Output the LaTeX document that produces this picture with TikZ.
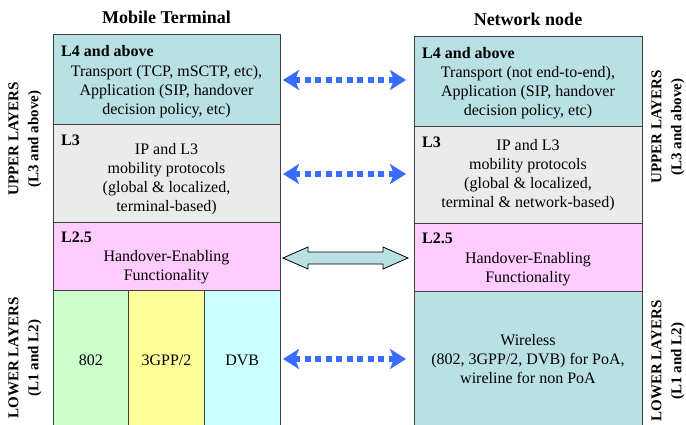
\documentclass[tikz,border=0pt]{standalone}
\usepackage{fontspec}
\setmainfont{Liberation Serif}
\usepackage{tikz}
\usetikzlibrary{arrows.meta, positioning, calc}
\definecolor{upteal}{HTML}{B9E0E3}
\definecolor{lthree}{HTML}{EBEBEB}
\definecolor{ltwofive}{HTML}{FFCCFF}
\definecolor{wgreen}{HTML}{CCFFCC}
\definecolor{wyellow}{HTML}{FFFF99}
\definecolor{wcyan}{HTML}{CCFFFF}
\definecolor{arrblue}{HTML}{3A6BFF}
\definecolor{boxline}{HTML}{404040}
\tikzset{
  layerbox/.style={rectangle, draw=boxline, line width=0.9pt, inner sep=0pt, outer sep=0pt},
  hdr/.style={font=\fontsize{16}{19}\selectfont\bfseries, anchor=north west, inner sep=3pt},
  bodytxt/.style={align=center, inner sep=0pt, font=\fontsize{16}{19}\selectfont},
  sidelbl/.style={rotate=90, align=center, font=\fontsize{15}{20}\selectfont\bfseries},
  coltitle/.style={font=\fontsize{18}{21}\selectfont\bfseries},
  dasharr/.style={draw=arrblue, line width=6pt, dash pattern=on 6pt off 4.5pt,
    {Stealth[length=16pt, width=20pt, inset=4pt]}-{Stealth[length=16pt, width=20pt, inset=4pt]}},
  fatarr/.style={draw=black, fill=upteal, line width=0.8pt, line join=miter},
}
\begin{document}
\begin{tikzpicture}[x=1pt, y=1pt]
\useasboundingbox (0,0) rectangle (686,-425);
% mobile terminal stack
\node[layerbox, fill=upteal, minimum width=227pt, minimum height=90pt, anchor=north west] (mtL4) at (53,-34) {};
\node[layerbox, fill=lthree, minimum width=227pt, minimum height=98pt, below=0pt of mtL4] (mtL3) {};
\node[layerbox, fill=ltwofive, minimum width=227pt, minimum height=68pt, below=0pt of mtL3] (mtL25) {};
\node[layerbox, fill=wgreen, minimum width=75.67pt, minimum height=140pt, anchor=north west] (mt802) at (mtL25.south west) {};
\node[layerbox, fill=wyellow, minimum width=75.67pt, minimum height=140pt, right=0pt of mt802] (mt3gpp) {};
\node[layerbox, fill=wcyan, minimum width=75.67pt, minimum height=140pt, right=0pt of mt3gpp] (mtdvb) {};
% network node stack
\node[layerbox, fill=upteal, minimum width=228pt, minimum height=90pt, anchor=north west] (nnL4) at (414,-36) {};
\node[layerbox, fill=lthree, minimum width=228pt, minimum height=97pt, below=0pt of nnL4] (nnL3) {};
\node[layerbox, fill=ltwofive, minimum width=228pt, minimum height=68pt, below=0pt of nnL3] (nnL25) {};
\node[layerbox, fill=upteal, minimum width=228pt, minimum height=140pt, below=0pt of nnL25] (nnlow) {};
% titles
\node[coltitle, above=7pt of mtL4] (mttitle) {Mobile Terminal};
\node[coltitle, above=7pt of nnL4] (nntitle) {Network node};
% layer headers
\node[hdr] (mtL4h) at ([shift={(5pt,-8pt)}]mtL4.north west) {L4 and above};
\node[hdr] (mtL3h) at ([shift={(5pt,-8pt)}]mtL3.north west) {L3};
\node[hdr] (mtL25h) at ([shift={(5pt,-7pt)}]mtL25.north west) {L2.5};
\node[hdr] (nnL4h) at ([shift={(5pt,-8pt)}]nnL4.north west) {L4 and above};
\node[hdr] (nnL3h) at ([shift={(5pt,-8pt)}]nnL3.north west) {L3};
\node[hdr] (nnL25h) at ([shift={(5pt,-7pt)}]nnL25.north west) {L2.5};
% layer contents
\node[bodytxt] (mtL4t) at ([yshift=-12.5pt]mtL4.center) {Transport (TCP, mSCTP, etc),\\Application (SIP, handover\\decision policy, etc)};
\node[bodytxt] (mtL3t) at ([yshift=-6pt]mtL3.center) {IP and L3\\mobility protocols\\(global \& localized,\\terminal-based)};
\node[bodytxt] (mtL25t) at ([yshift=-11pt]mtL25.center) {Handover-Enabling\\Functionality};
\node[bodytxt] at (mt802.center) {802};
\node[bodytxt] at (mt3gpp.center) {3GPP/2};
\node[bodytxt] at (mtdvb.center) {DVB};
\node[bodytxt] (nnL4t) at ([yshift=-12pt]nnL4.center) {Transport (not end-to-end),\\Application (SIP, handover\\decision policy, etc)};
\node[bodytxt] (nnL3t) at ([yshift=-0.5pt]nnL3.center) {IP and L3\\mobility protocols\\(global \& localized,\\terminal \& network-based)};
\node[bodytxt] (nnL25t) at ([yshift=-12pt]nnL25.center) {Handover-Enabling\\Functionality};
\node[bodytxt] (nnlowt) at ([yshift=2pt]nnlow.center) {Wireless\\(802, 3GPP/2, DVB) for PoA,\\wireline for non PoA};
% side labels
\node[sidelbl] (upL) at (25,-139) {UPPER LAYERS\\(L3 and above)};
\node[sidelbl] (loL) at (25,-358) {LOWER LAYERS\\(L1 and L2)};
\node[sidelbl] (upR) at (668,-127) {UPPER LAYERS\\(L3 and above)};
\node[sidelbl] (loR) at (668,-361) {LOWER LAYERS\\(L1 and L2)};
% peer arrows
\draw[dasharr, shorten <=3pt, shorten >=8pt] ([yshift=-1pt]mtL4.east) -- ([yshift=-1pt]mtL4.east -| nnL4.west);
\draw[dasharr, shorten <=3pt, shorten >=8pt] ([yshift=-1pt]mtL3.east) -- ([yshift=-1pt]mtL3.east -| nnL3.west);
\draw[dasharr, shorten <=3pt, shorten >=8pt] ([yshift=1pt]mtdvb.east) -- ([yshift=1pt]mtdvb.east -| nnlow.west);
% hollow double arrow between the L2.5 boxes
\coordinate (fa) at ([shift={(3pt,-2pt)}]mtL25.east);
\coordinate (fb) at ([shift={(-6pt,-2pt)}]mtL25.east -| nnL25.west);
\draw[fatarr] (fa) -- ($(fa)+(25,11)$) -- ($(fa)+(25,6)$) -- ($(fb)+(-25,6)$) -- ($(fb)+(-25,11)$)
  -- (fb) -- ($(fb)+(-25,-11)$) -- ($(fb)+(-25,-6)$) -- ($(fa)+(25,-6)$) -- ($(fa)+(25,-11)$) -- cycle;
\end{tikzpicture}
\end{document}
